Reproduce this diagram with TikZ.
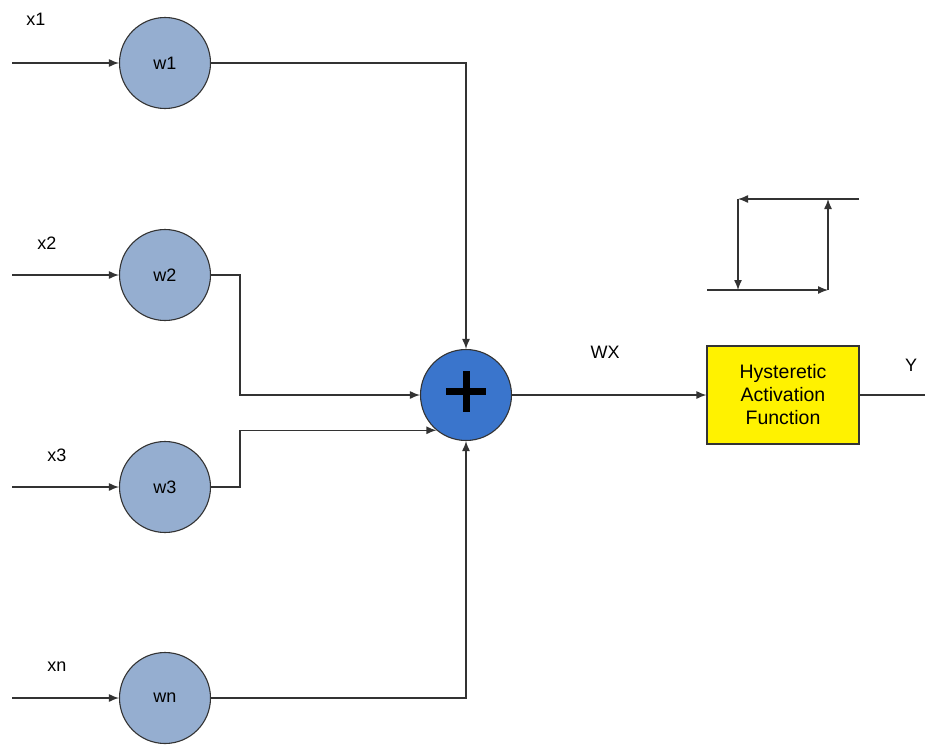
\documentclass[tikz,border=0pt]{standalone}
\usepackage{fontspec}
\setmainfont{Liberation Sans}
\usetikzlibrary{arrows.meta}
\definecolor{wfill}{HTML}{95AED0}
\definecolor{sfill}{HTML}{3A75CC}
\definecolor{lcol}{HTML}{333333}
\begin{document}
\begin{tikzpicture}[x=1pt,y=-1pt,
  conn/.style={draw=lcol,line width=1.3pt},
  arr/.style={conn,-{Latex[length=10pt,width=8pt]}},
  weight/.style={circle,draw=lcol,line width=1.1pt,fill=wfill,minimum size=91pt,inner sep=0pt,font=\fontsize{18}{21}\selectfont},
  sumnode/.style={circle,draw=lcol,line width=1.1pt,fill=sfill,minimum size=91pt,inner sep=0pt},
  lbl/.style={font=\fontsize{18}{21}\selectfont,inner sep=0pt},
  actbox/.style={draw=lcol,line width=1.1pt,fill=yellow,minimum width=152pt,minimum height=98pt,align=center,font=\fontsize{19.5}{23}\selectfont}]
\useasboundingbox (0,0) rectangle (925,744);
% weight nodes
\node[weight] (w1) at (165,63) {w1};
\node[weight] (w2) at (165,275) {w2};
\node[weight] (w3) at (165,487) {w3};
\node[weight] (wn) at (165,698) {wn};
% input coordinates
\coordinate (i1) at (12,63);
\coordinate (i2) at (12,275);
\coordinate (i3) at (12,487);
\coordinate (in) at (12,698);
\node[lbl] (lx1) at (36,19) {x1};
\node[lbl] (lx2) at (47,243) {x2};
\node[lbl] (lx3) at (57,455) {x3};
\node[lbl] (lxn) at (57,667) {xn};
\draw[arr] (i1) -- (w1);
\draw[arr] (i2) -- (w2);
\draw[arr] (i3) -- (w3);
\draw[arr] (in) -- (wn);
% sum node
\node[sumnode] (sum) at (466,395) {};
\draw[line width=7pt,line cap=butt] (sum.center) ++(-20,-4) -- ++(40,0);
\draw[line width=7pt,line cap=butt] (sum.center) ++(0,-24) -- ++(0,41);
% connections to sum
\coordinate (j2) at (240,275);
\coordinate (j3) at (240,487);
\draw[arr] (w1.east) -| (sum.north);
\draw[arr] (w2.east) -- (j2) |- (sum.west);
\draw[arr] (w3.east) -- (j3) |- (sum.230);
\draw[arr] (wn.east) -| (sum.south);
% activation
\node[actbox] (act) at (783,395) {Hysteretic\\Activation\\Function};
\draw[arr] (sum.east) -- (act.west);
\coordinate (out) at (925,395);
\draw[conn] (act.east) -- (out);
\node[lbl] (lwx) at (605,352) {WX};
\node[lbl] (ly) at (911,365) {Y};
% hysteresis symbol
\coordinate (h1) at (859,199);
\coordinate (h2) at (738,199);
\coordinate (h3) at (738,290);
\coordinate (h4) at (707,290);
\coordinate (h5) at (828,290);
\coordinate (h6) at (828,199);
\draw[arr] (h1) -- (h2);
\draw[arr] (h2) -- (h3);
\draw[arr] (h4) -- (h5);
\draw[arr] (h5) -- (h6);
\end{tikzpicture}
\end{document}
